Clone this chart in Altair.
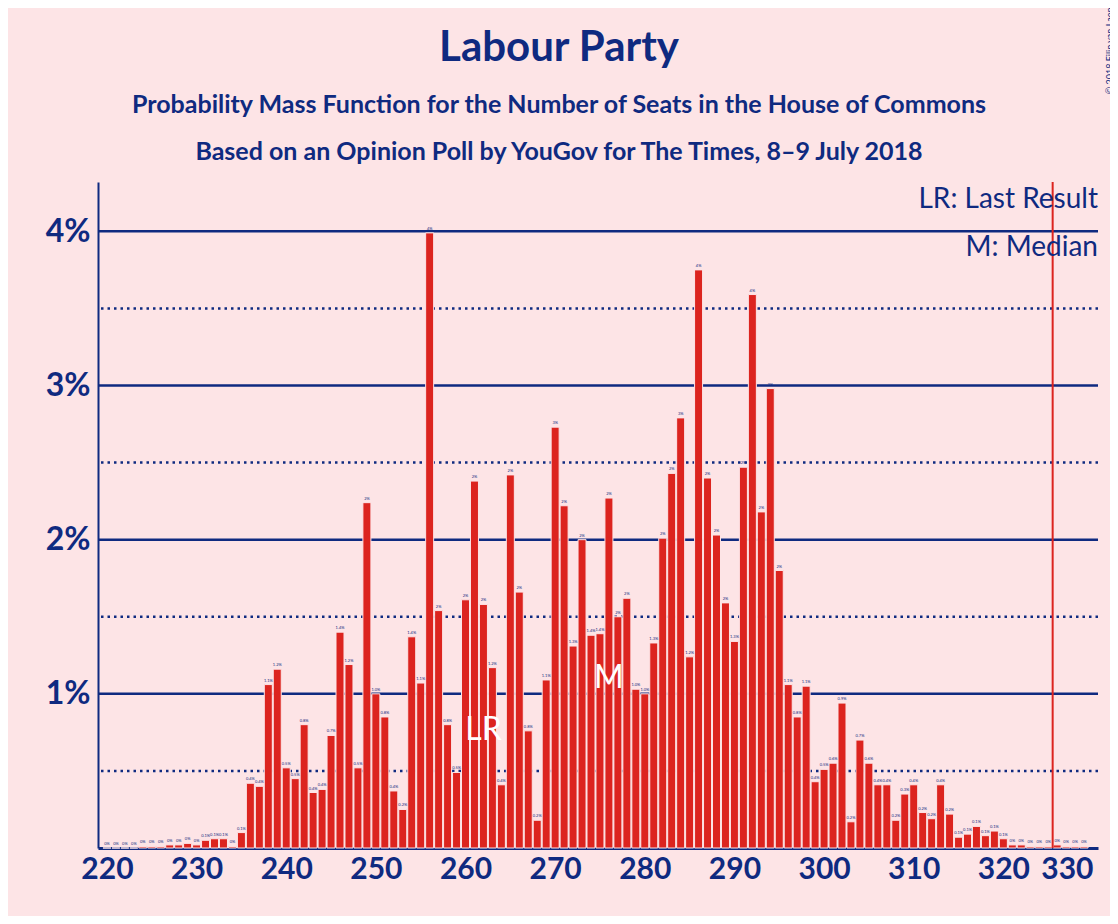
import altair as alt
import pandas as pd

seats = list(range(220, 330))
probs = [
    0, 0, 0, 0, 0.01, 0.01, 0.01, 0.02, 0.02, 0.03,
    0.02, 0.05, 0.06, 0.06, 0.01, 0.1, 0.42, 0.40, 1.06, 1.16,
    0.52, 0.45, 0.80, 0.36, 0.38, 0.73, 1.40, 1.19, 0.52, 2.24,
    1.00, 0.85, 0.37, 0.25, 1.37, 1.07, 3.99, 1.54, 0.80, 0.49,
    1.61, 2.38, 1.58, 1.17, 0.41, 2.42, 1.66, 0.76, 0.18, 1.09,
    2.73, 2.22, 1.31, 2.00, 1.38, 1.39, 2.27, 1.50, 1.62, 1.03,
    1.00, 1.33, 2.01, 2.43, 2.79, 1.24, 3.75, 2.40, 2.03, 1.59,
    1.34, 2.47, 3.59, 2.18, 2.98, 1.80, 1.06, 0.85, 1.05, 0.43,
    0.51, 0.55, 0.94, 0.17, 0.70, 0.55, 0.41, 0.41, 0.18, 0.35,
    0.41, 0.23, 0.19, 0.41, 0.22, 0.07, 0.09, 0.14, 0.08, 0.11,
    0.06, 0.02, 0.02, 0.01, 0.01, 0.01, 0.02, 0.01, 0.01, 0.01,
]
last_result = 262
median = 276
majority = 325.5
solid_grid = [1, 2, 3, 4]
dotted_grid = [0.5, 1.5, 2.5, 3.5]

BLUE = "#0F2A80"
RED = "#DC241F"
BG = "#FDE4E6"
FONT = "Lato"
YSCALE = alt.Scale(domain=[0, 0.0432], nice=False)


def label(v):
    if v < 1.5:
        return f"{v:.1f}%" if round(v, 1) > 0 else "0%"
    return f"{round(v):.0f}%"


df = pd.DataFrame({"seats": seats, "p": [v / 100 for v in probs], "lab": [label(v) for v in probs]})

x = alt.X("seats:Q", scale=alt.Scale(domain=[219.56, 330], nice=False, zero=False),
          axis=alt.Axis(values=list(range(220, 331, 10)), title=None, grid=False, ticks=False,
                        labelFontSize=30, labelFontWeight="bold", labelColor=BLUE, labelFont=FONT,
                        domainColor=BLUE, domainWidth=3, labelPadding=6, labelFlush=False,
                        labelAlign=alt.expr("datum.value == 330 ? 'right' : 'center'")))
y = alt.Y("p:Q", scale=YSCALE,
          axis=alt.Axis(values=[v / 100 for v in solid_grid], format=".0%", title=None,
                        grid=False, ticks=False, labelFontSize=32, labelFontWeight="bold",
                        labelColor=BLUE, labelFont=FONT, domainColor=BLUE, domainWidth=2, labelPadding=8))

grid_solid = alt.Chart(pd.DataFrame({"g": [v / 100 for v in solid_grid]})).mark_rule(
    color=BLUE, strokeWidth=2.5).encode(y=alt.Y("g:Q", scale=YSCALE))
grid_dot = alt.Chart(pd.DataFrame({"g": [v / 100 for v in dotted_grid]})).mark_rule(
    color=BLUE, strokeWidth=2.5, strokeDash=[2.5, 4]).encode(y="g:Q")

bars = alt.Chart(df).mark_bar(color=RED, stroke=BG, strokeWidth=1, width=8).encode(x=x, y=y)
texts = alt.Chart(df).mark_text(fontSize=4, color=BLUE, dy=-4, font=FONT).encode(
    x="seats:Q", y="p:Q", text="lab:N")

marks = alt.Chart(pd.DataFrame({"seats": [last_result, median], "t": ["LR", "M"], "yy": [548, 496]})).mark_text(
    fontSize=32, color="white", font=FONT, baseline="middle").encode(
    x="seats:Q", y=alt.Y("yy:Q", scale=None), text="t:N")

maj = alt.Chart(pd.DataFrame({"seats": [majority]})).mark_rule(color=RED, strokeWidth=2).encode(x="seats:Q")

legend = alt.Chart(pd.DataFrame({"t": ["LR: Last Result", "M: Median"], "yy": [18, 66]})).mark_text(
    fontSize=28, color=BLUE, font=FONT, align="right", baseline="middle").encode(
    x=alt.value(1000), y=alt.Y("yy:Q", scale=None), text="t:N")

titles = alt.Chart(pd.DataFrame({
    "t": ["Labour Party",
          "Probability Mass Function for the Number of Seats in the House of Commons",
          "Based on an Opinion Poll by YouGov for The Times, 8–9 July 2018"],
    "yy": [-134, -77, -30], "fs": [42, 25, 25]})).mark_text(
    color=BLUE, font=FONT, fontWeight="bold", align="center", baseline="middle").encode(
    x=alt.value(461), y=alt.Y("yy:Q", scale=None), text="t:N",
    size=alt.Size("fs:Q", scale=None, legend=None))

copy = alt.Chart(pd.DataFrame({"t": ["© 2018 Filip van Laenen"]})).mark_text(
    fontSize=9, color=BLUE, font=FONT, angle=270, align="center", baseline="middle").encode(
    x=alt.value(1012), y=alt.value(-136), text="t:N")

chart = alt.layer(grid_dot, grid_solid, bars, texts, marks, maj, legend, titles, copy).properties(
    width=1000, height=666,
    padding={"left": 90, "top": 174, "right": 12, "bottom": 68},
    autosize=alt.AutoSizeParams(type="none"),
    background=BG,
).configure_view(stroke=None)

chart.save("out.html", embed_options={"renderer": "svg", "actions": False})
